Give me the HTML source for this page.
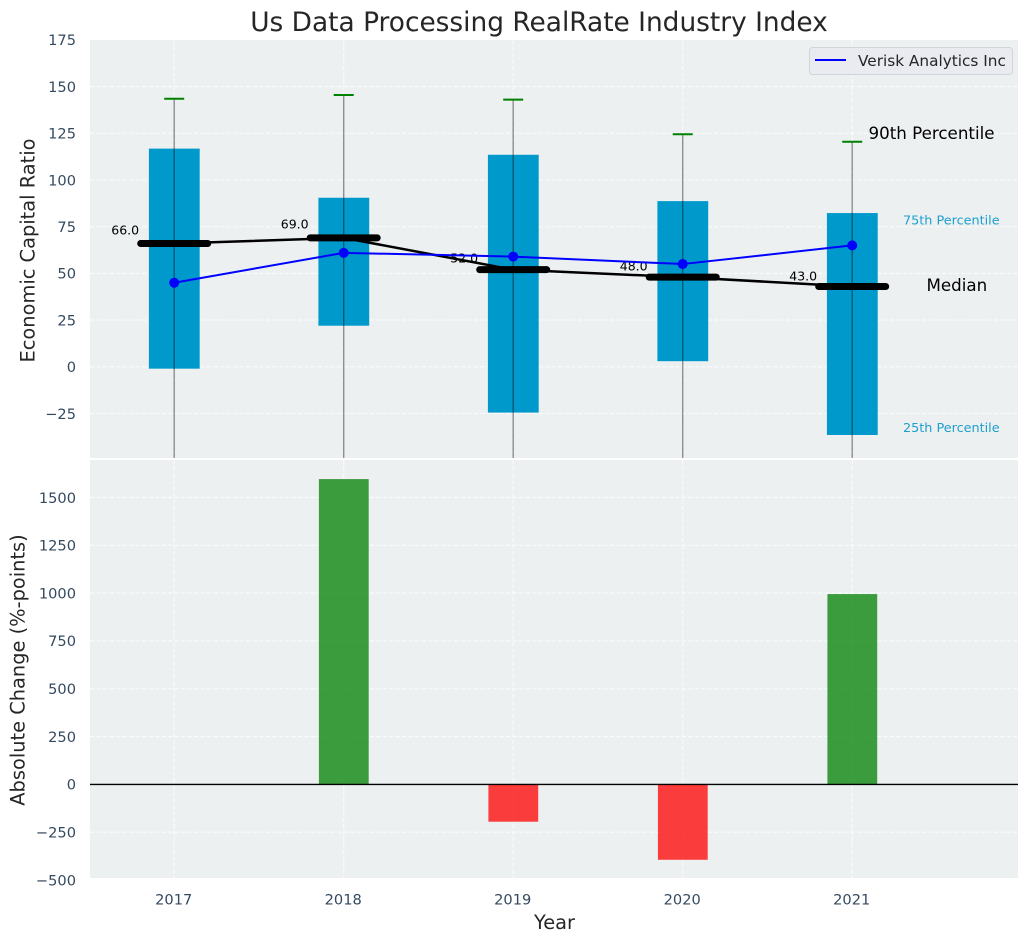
<!DOCTYPE html>
<html>
<head>
<meta charset="utf-8">
<title>Us Data Processing RealRate Industry Index</title>
<style>
html,body{margin:0;padding:0;background:#fff;}
svg{display:block;font-family:"DejaVu Sans","Liberation Sans",sans-serif;}
</style>
</head>
<body>
<svg id="chart" xmlns="http://www.w3.org/2000/svg" width="1029" height="942" viewBox="0 0 1029 942">
  <defs>
    <clipPath id="clip-top"><rect x="90" y="40" width="928" height="418"/></clipPath>
    <clipPath id="clip-bottom"><rect x="90" y="460" width="928" height="418"/></clipPath>
  </defs>
  <text x="539" y="31" font-size="26.4" fill="#262626" text-anchor="middle">Us Data Processing RealRate Industry Index</text>
  <rect x="90" y="40" width="928" height="418" fill="#ecf0f1"/>
  <rect x="90" y="460" width="928" height="418" fill="#ecf0f1"/>
  <g id="grid"></g>
  <g id="top" clip-path="url(#clip-top)"></g>
  <g id="bottom" clip-path="url(#clip-bottom)"></g>
  <g id="ticks" font-size="14.6" fill="#34495e"></g>
  <text transform="translate(34.5,250.5) rotate(-90)" font-size="19.4" fill="#262626" text-anchor="middle">Economic Capital Ratio</text>
  <text transform="translate(24.5,670) rotate(-90)" font-size="19.4" fill="#262626" text-anchor="middle">Absolute Change (%-points)</text>
  <text x="554.5" y="929" font-size="19.4" fill="#262626" text-anchor="middle">Year</text>
  <text x="868.5" y="139" font-size="16.7" fill="#000">90th Percentile</text>
  <text x="903" y="224.5" font-size="12.8" fill="#1f9fcf">75th Percentile</text>
  <text x="926.5" y="291" font-size="16.7" fill="#000">Median</text>
  <text x="903" y="432" font-size="12.8" fill="#1f9fcf">25th Percentile</text>
  <g>
    <rect x="809.5" y="47.5" width="203" height="27" rx="3" fill="#e9ebf0" stroke="#d2d3d6" stroke-width="1"/>
    <line x1="815" x2="846" y1="60" y2="60" stroke="#0000ff" stroke-width="2"/>
    <text x="858" y="66" font-size="15.3" fill="#262626">Verisk Analytics Inc</text>
  </g>
</svg>
<script>
const years = [2017, 2018, 2019, 2020, 2021];
const p90 = [143.5, 145.5, 143, 124.5, 120.5];
const p75 = [116.8, 90.5, 113.5, 88.7, 82.3];
const p25 = [-1, 22, -24.5, 3, -36.5];
const p10 = [-80, -70, -85, -65, -90];
const medians = [66, 69, 52, 48, 43];
const company = [45, 61, 59, 55, 65];
const changes = [0, 1596, -195, -394, 995];
const topTicks = [175, 150, 125, 100, 75, 50, 25, 0, -25];
const bottomTicks = [1500, 1250, 1000, 750, 500, 250, 0, -250, -500];

const NS = 'http://www.w3.org/2000/svg';
const xPos = v => 174.2 + (v - 2017) * 169.5;
const yTop = v => 366.8 - 1.868 * v;
const yBottom = v => 784.4 - 0.1913 * v;
const gridG = document.getElementById('grid');
const topG = document.getElementById('top');
const bottomG = document.getElementById('bottom');
const ticksG = document.getElementById('ticks');

function make(parent, tag, attrs) {
  const el = document.createElementNS(NS, tag);
  for (const k in attrs) el.setAttribute(k, attrs[k]);
  parent.appendChild(el);
  return el;
}
const gridStyle = {stroke: '#ffffff', 'stroke-width': 1.1, 'stroke-dasharray': '4.5 2', 'stroke-opacity': 0.75};
function gridLine(x1, y1, x2, y2) {
  return make(gridG, 'line', Object.assign({x1: x1, y1: y1, x2: x2, y2: y2}, gridStyle));
}
function fmt(v) {
  return v < 0 ? '\u2212' + Math.abs(v) : String(v);
}

topTicks.forEach(t => {
  const y = yTop(t);
  if (t !== 175) {
    const g = gridLine(90, y, 1018, y);
    
    
  }
  const label = make(ticksG, 'text', {x: 76, y: y + 5.3, 'text-anchor': 'end'});
  label.textContent = fmt(t);
  
  
});
bottomTicks.forEach(t => {
  const y = yBottom(t);
  if (t !== -500) {
    const g = gridLine(90, y, 1018, y);
    
    
  }
  const label = make(ticksG, 'text', {x: 76, y: y + 5.3, 'text-anchor': 'end'});
  label.textContent = fmt(t);
  
  
});
years.forEach(yr => {
  const x = xPos(yr);
  const g1 = gridLine(x, 40, x, 458);
  
  
  const g2 = gridLine(x, 460, x, 878);
  
  
  const label = make(ticksG, 'text', {x: x - 0.5, y: 904.5, 'text-anchor': 'middle'});
  label.textContent = String(yr);
  
  
});

years.forEach((yr, i) => {
  const x = xPos(yr);
  const box = make(topG, 'rect', {x: x - 25.3, y: yTop(p75[i]), width: 50.8, height: yTop(p25[i]) - yTop(p75[i]), fill: '#0099cc'});
  
  
});
years.forEach((yr, i) => {
  const x = xPos(yr);
  const whisker = make(topG, 'line', {x1: x, x2: x, y1: yTop(p90[i]), y2: yTop(p10[i]), stroke: '#000', 'stroke-width': 1.4, 'stroke-opacity': 0.42});
  
  
  const cap = make(topG, 'line', {x1: x - 10, x2: x + 10, y1: yTop(p90[i]), y2: yTop(p90[i]), stroke: '#008000', 'stroke-width': 2});
  
  
});

const medianLine = make(topG, 'polyline', {
  points: years.map((yr, i) => xPos(yr) + ',' + yTop(medians[i])).join(' '),
  fill: 'none', stroke: '#000', 'stroke-width': 2.5
});



years.forEach((yr, i) => {
  const x = xPos(yr);
  const bar = make(topG, 'line', {x1: x - 33.5, x2: x + 33.5, y1: yTop(medians[i]), y2: yTop(medians[i]), stroke: '#000', 'stroke-width': 7, 'stroke-linecap': 'round'});
  
  
  const label = make(topG, 'text', {x: x - 49, y: yTop(medians[i] * 1.067) - 0.7, 'text-anchor': 'middle', 'font-size': 12.5, fill: '#000'});
  label.textContent = medians[i].toFixed(1);
  
  
});

const companyLine = make(topG, 'polyline', {
  points: years.map((yr, i) => xPos(yr) + ',' + yTop(company[i])).join(' '),
  fill: 'none', stroke: '#0000ff', 'stroke-width': 2
});


years.forEach((yr, i) => {
  const dot = make(topG, 'circle', {cx: xPos(yr), cy: yTop(company[i]), r: 5, fill: '#0000ff'});
  
  
});

years.forEach((yr, i) => {
  const v = changes[i];
  if (v === 0) return;
  const y0 = yBottom(0);
  const y1 = yBottom(v);
  const bar = make(bottomG, 'rect', {
    x: xPos(yr) - 24.8, y: Math.min(y0, y1), width: 49.8, height: Math.abs(y1 - y0),
    fill: v > 0 ? '#008000' : '#ff0000', 'fill-opacity': 0.75
  });
  
  
});
const zero = make(bottomG, 'line', {x1: 90, x2: 1018, y1: yBottom(0), y2: yBottom(0), stroke: '#000', 'stroke-width': 1.4});


</script>
</body>
</html>
